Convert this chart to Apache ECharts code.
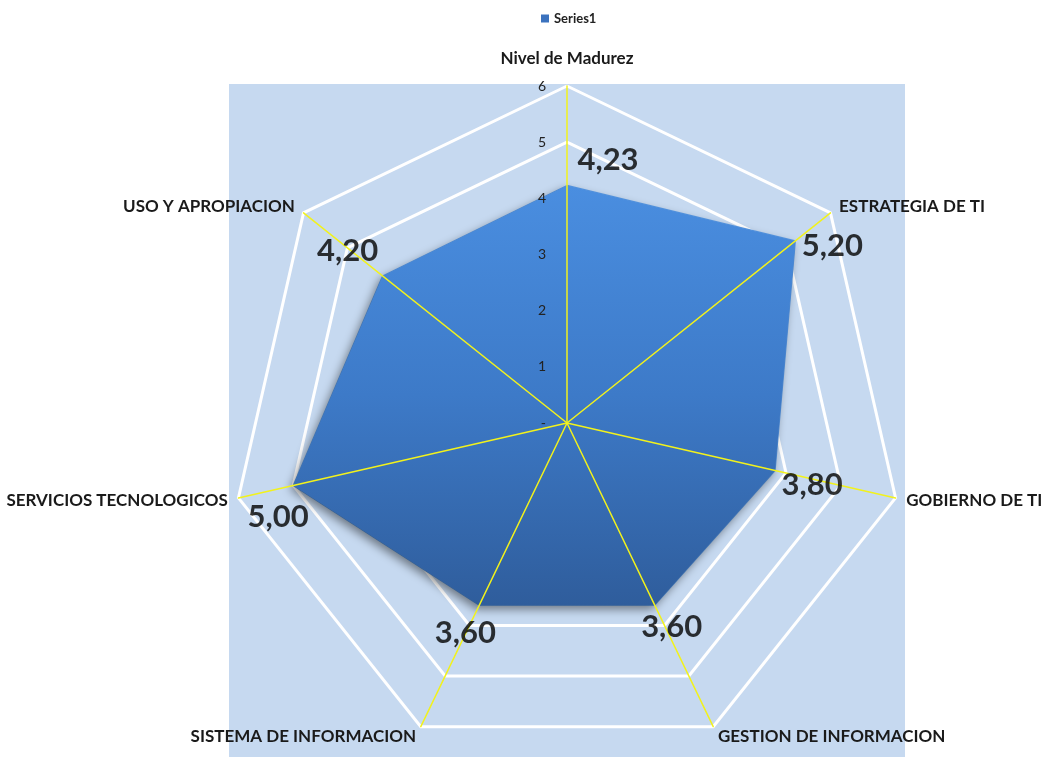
<!DOCTYPE html>
<html>
<head>
<meta charset="utf-8">
<script src="https://cdn.jsdelivr.net/npm/echarts@6/dist/echarts.min.js"></script>
<style>
  html, body { margin: 0; padding: 0; background: #fff; }
  #chart { width: 1045px; height: 757px; }
</style>
</head>
<body>
<div id="chart"></div>
<script>
// Dimensions in clockwise order, starting at the top
const categories = ['Nivel de Madurez', 'ESTRATEGIA DE TI', 'GOBIERNO DE TI', 'GESTION DE INFORMACION',
  'SISTEMA DE INFORMACION', 'SERVICIOS TECNOLOGICOS', 'USO Y APROPIACION'];
const seriesName = 'Series1';
const seriesValues = [4.23, 5.20, 3.80, 3.60, 3.60, 5.00, 4.20];
const scaleMax = 6;
const scaleStep = 1;

// Label placement relative to each vertex (pixels)
const labelOffsets = [[41, -25], [37, 5], [37, 15], [17, 22], [-14, 28], [-15, 32], [-35, -25]];

const CENTER = [567, 423];
const RADIUS = 337;
const FONT = 'Lato, "Open Sans", sans-serif';

// ECharts radar runs counter-clockwise: keep the first axis, reverse the rest
const order = [0].concat(categories.map((_, i) => i).slice(1).reverse());
const indicator = order.map(i => ({ name: categories[i], max: scaleMax, min: 0 }));
const radarValues = order.map(i => seriesValues[i]);

const fmt = v => v.toFixed(2).replace('.', ',');

const chart = echarts.init(document.getElementById('chart'));
chart.setOption({
  backgroundColor: '#ffffff',
  animation: false,
  graphic: [{
    type: 'rect', z: -10, silent: true,
    shape: { x: CENTER[0] - RADIUS - 1, y: CENTER[1] - RADIUS - 2, width: 2 * RADIUS + 2, height: 2 * RADIUS + 10 },
    style: { fill: '#C6D9F0' }
  }],
  legend: {
    data: [seriesName], top: 7, left: 536,
    icon: 'rect', itemWidth: 8, itemHeight: 8, itemGap: 4,
    textStyle: { fontFamily: FONT, fontSize: 13, fontWeight: 'bold', color: '#222' }
  },
  radar: [{
    // grid rings, underneath the filled area
    center: CENTER, radius: RADIUS, startAngle: 90, shape: 'polygon',
    splitNumber: scaleMax / scaleStep, indicator: indicator, z: 1,
    axisName: { show: false },
    splitLine: { lineStyle: { color: '#ffffff', width: 3 } },
    splitArea: { show: false },
    axisLine: { show: false }
  }, {
    // spokes and names, on top of the filled area
    center: CENTER, radius: RADIUS, startAngle: 90, shape: 'polygon',
    splitNumber: scaleMax / scaleStep, indicator: indicator, z: 3, nameGap: 11,
    axisName: {
      color: '#1a1a1a', fontFamily: FONT, fontSize: 17, fontWeight: 'bold',
      formatter: name => name === categories[0] ? '{top|' + name + '}' : name,
      rich: { top: { fontFamily: FONT, fontSize: 17, fontWeight: 'bold', color: '#1a1a1a', padding: [0, 0, 8, 0] } }
    },
    splitLine: { show: false },
    splitArea: { show: false },
    axisLine: { lineStyle: { color: '#F2F21C', width: 1.5 } }
  }],
  polar: { center: CENTER, radius: RADIUS },
  angleAxis: {
    type: 'value', min: 0, max: categories.length, startAngle: 90, clockwise: true,
    show: false
  },
  radiusAxis: {
    type: 'value', min: 0, max: scaleMax, interval: scaleStep, z: 4,
    axisLine: { show: false }, axisTick: { show: false }, splitLine: { show: false },
    axisLabel: {
      margin: 21, fontFamily: FONT, fontSize: 14, color: '#222',
      formatter: v => v === 0 ? '-' : String(v)
    }
  },
  series: [{
    name: seriesName,
    type: 'radar', radarIndex: 0, z: 2,
    symbol: 'none',
    itemStyle: { color: '#3B72BE' },
    lineStyle: { color: '#5B9DEB', width: 1.2 },
    areaStyle: {
      opacity: 1,
      color: new echarts.graphic.LinearGradient(0, 0, 0, 1, [
        { offset: 0, color: '#4A8EE0' },
        { offset: 0.5, color: '#3D7AC8' },
        { offset: 1, color: '#2F5D9C' }
      ]),
      shadowBlur: 10, shadowColor: 'rgba(0,0,0,0.45)', shadowOffsetX: -3, shadowOffsetY: 4
    },
    data: [{ value: radarValues, name: seriesName }]
  }, {
    type: 'scatter', coordinateSystem: 'polar', z: 5, silent: true,
    symbol: 'circle', symbolSize: 1,
    itemStyle: { color: 'transparent' },
    label: {
      show: true, position: 'inside',
      fontFamily: FONT, fontSize: 31, fontWeight: 'bold', color: '#000',
      formatter: p => fmt(p.value[0])
    },
    data: seriesValues.map((v, i) => ({
      value: [v, i],
      label: { offset: labelOffsets[i] }
    }))
  }]
});
</script>
</body>
</html>
